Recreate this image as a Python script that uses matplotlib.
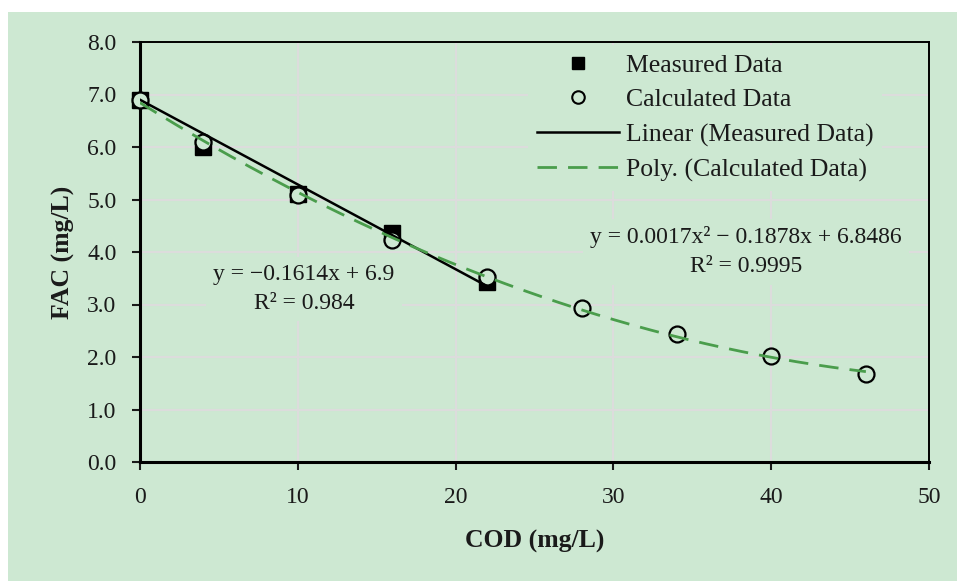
import numpy as np
import matplotlib
matplotlib.use("Agg")
import matplotlib.pyplot as plt
from matplotlib.patches import Rectangle
from matplotlib.lines import Line2D

# data
cod_measured = [0, 4, 10, 16, 22]
fac_measured = [6.90, 6.00, 5.10, 4.37, 3.42]
cod_calc = [0, 4, 10, 16, 22, 28, 34, 40, 46]
fac_calc = [6.90, 6.10, 5.09, 4.23, 3.53, 2.93, 2.43, 2.01, 1.68]

# linear trendline with intercept fixed at 6.9 (as printed)
lin_coef = [-0.1614, 6.9]

lin_label = "y = \u22120.1614x + 6.9\nR\u00b2 = 0.984"
poly_label = "y = 0.0017x\u00b2 \u2212 0.1878x + 6.8486\nR\u00b2 = 0.9995"

BG = "#cde8d2"
GRID = "#dcdcdc"
GREEN = "#4a9d4c"
TXT = "#1a1a1a"

plt.rcParams["font.family"] = ["Liberation Serif", "DejaVu Serif"]

W, H = 957, 581
fig = plt.figure(figsize=(W / 100, H / 100), dpi=100)
fig.patch.set_facecolor("white")
bg_rect = Rectangle((8 / W, 0), 1 - 8 / W, 1 - 12 / H, transform=fig.transFigure,
                    facecolor=BG, edgecolor="none", zorder=-10)
fig.add_artist(bg_rect)

ax = fig.add_axes([140 / W, 1 - 462 / H, (929 - 140) / W, (462 - 42) / H])
ax.set_facecolor(BG)
ax.set_xlim(0, 50)
ax.set_ylim(0, 8)
ax.set_xticks(range(0, 51, 10))
ax.set_yticks(range(0, 9))
ax.set_yticklabels([f"{v:.1f}" for v in range(0, 9)])
ax.grid(True, color=GRID, linewidth=1.5, zorder=0)
ax.set_axisbelow(True)

for side in ["left", "bottom"]:
    ax.spines[side].set_linewidth(2.2)
for side in ["top", "right"]:
    ax.spines[side].set_linewidth(1.4)
ax.tick_params(direction="out", length=6, width=1.5, labelsize=17, colors=TXT)
ax.tick_params(axis="x", pad=12)
ax.tick_params(axis="y", pad=11)

# markers
ax.plot(cod_measured, fac_measured, "s", color="black", markersize=11, zorder=3, clip_on=False)
ax.plot(cod_calc, fac_calc, "o", markerfacecolor=BG, markeredgecolor="black",
        markeredgewidth=1.6, markersize=11.5, zorder=4, clip_on=False)

# trendlines
xl = np.linspace(min(cod_measured), max(cod_measured), 50)
ax.plot(xl, np.polyval(lin_coef, xl), color="black", linewidth=1.8, zorder=5)
poly_coef = np.polyfit(cod_calc, fac_calc, 2)
xp = np.linspace(min(cod_calc), max(cod_calc), 200)
ax.plot(xp, np.polyval(poly_coef, xp), color=GREEN, linewidth=2, dashes=(7, 4), zorder=5)

box = dict(boxstyle="square,pad=0.3", facecolor=BG, edgecolor="none")
ax.text(10.4, 3.30, lin_label, ha="center", va="center", fontsize=17, linespacing=1.5,
        bbox=box, zorder=2, color=TXT)
ax.text(38.4, 4.00, poly_label, ha="center", va="center", fontsize=17, linespacing=1.5,
        bbox=box, zorder=2, color=TXT)

handles = [
    Line2D([], [], linestyle="none", marker="s", color="black", markersize=9),
    Line2D([], [], linestyle="none", marker="o", markerfacecolor=BG, markeredgecolor="black",
           markeredgewidth=1.5, markersize=9),
    Line2D([], [], color="black", linewidth=1.8),
    Line2D([], [], color=GREEN, linewidth=2, dashes=(7, 4)),
]
labels = ["Measured Data", "Calculated Data", "Linear (Measured Data)", "Poly. (Calculated Data)"]
leg = ax.legend(handles, labels, loc="upper left", bbox_to_anchor=((525 - 140) / 789, 1.0),
                fontsize=18.5, handlelength=3.2, handletextpad=0.27, labelspacing=0.46,
                borderpad=0.35, borderaxespad=0.1, frameon=True, fancybox=False)
leg.get_frame().set_facecolor(BG)
leg.get_frame().set_edgecolor("none")
leg.get_frame().set_alpha(1)
for t in leg.get_texts():
    t.set_color(TXT)

ax.set_xlabel("COD (mg/L)", fontsize=18.5, fontweight="bold", labelpad=16, color=TXT)
ax.set_ylabel("FAC (mg/L)", fontsize=18.5, fontweight="bold", labelpad=9, color=TXT)

fig.savefig("out.png", dpi=100, facecolor="white")
